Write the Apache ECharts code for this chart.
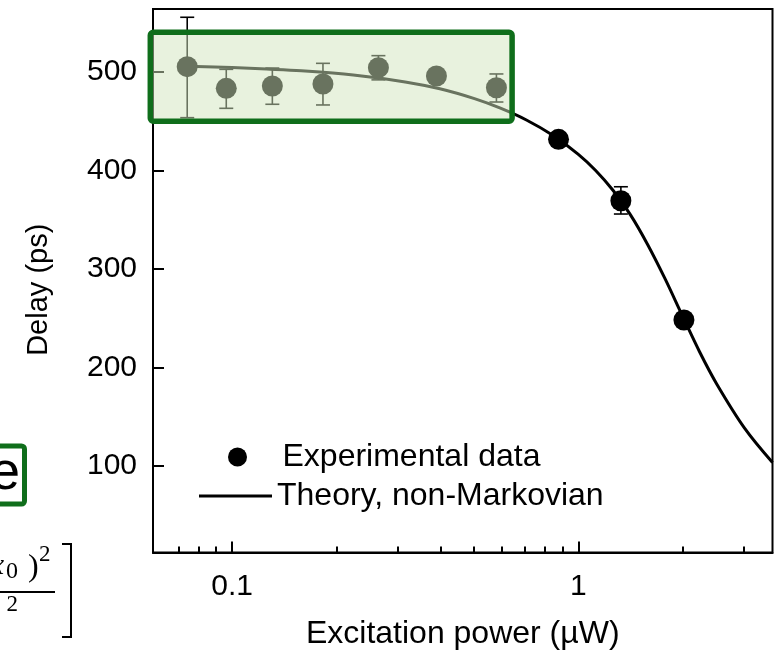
<!DOCTYPE html>
<html>
<head>
<meta charset="utf-8">
<script src="https://cdn.jsdelivr.net/npm/echarts@6/dist/echarts.min.js"></script>
<style>
  html, body { margin: 0; padding: 0; background: #fff; }
  #chart { width: 779px; height: 656px; }
</style>
</head>
<body>
<div id="chart"></div>
<script>
// Measured delay vs. excitation power, with error bars
const power = [0.0742, 0.0962, 0.1307, 0.1830, 0.2646, 0.3892, 0.580, 0.8765, 1.327, 2.018];
const delay = [505.4, 483.4, 485.8, 487.8, 504.4, 495.9, 484.0, 431.6, 369.2, 248.0];
const errLow = [453.6, 463.1, 467.2, 466.5, 492.0, null, 469.5, null, 355.7, null];
const errHigh = [555.6, 502.7, 504.0, 508.8, 516.6, null, 498.0, null, 383.4, null];

// Non-Markovian theory curve
const theoryPower = [0.07413, 0.1, 0.1259, 0.1585, 0.2239, 0.3162, 0.3981, 0.5012, 0.5957, 0.7079, 0.8414,
  1.0, 1.122, 1.259, 1.413, 1.585, 1.778, 1.995, 2.239, 2.512, 3.020, 3.637];
const theoryDelay = [505.8, 504.5, 503.0, 501.2, 496.9, 489.9, 482.9, 472.9, 463.2, 451.2, 435.9,
  416.3, 399.9, 379.8, 355.1, 324.8, 290.3, 252.8, 215.8, 182.8, 138.2, 103.3];

// Axis ticks
const xMajor = [0.1, 1];
const xMinor = [0.07, 0.08, 0.09, 0.2, 0.3, 0.4, 0.5, 0.6, 0.7, 0.8, 0.9, 2, 3];
const yTicks = [100, 200, 300, 400, 500];

const FONT = '"Liberation Sans", Arial, sans-serif';
const SERIF = '"Liberation Serif", "DejaVu Serif", serif';
const X_MIN = 0.0591, X_MAX = 3.637;
const Y_MIN = 11.8, Y_MAX = 564;

const chart = echarts.init(document.getElementById('chart'));

const points = power.map((p, i) => [p, delay[i]]);
const bars = power.map((p, i) => [p, errLow[i], errHigh[i]]).filter(d => d[1] != null);
const theory = theoryPower.map((p, i) => [p, theoryDelay[i]]);

const GREEN = '#0f6e1b';

const option = {
  animation: false,
  backgroundColor: '#fff',
  grid: {
    left: 153, right: 6.5, top: 9, bottom: 103.5,
    show: true, borderColor: '#000', borderWidth: 2
  },
  xAxis: [
    {
      type: 'log', logBase: 10, min: X_MIN, max: X_MAX,
      name: 'Excitation power (µW)', nameLocation: 'middle', nameGap: 66,
      nameTextStyle: { fontFamily: FONT, fontSize: 32, color: '#000' },
      axisLine: { lineStyle: { color: '#000', width: 2 } },
      axisTick: { inside: true, length: 11, customValues: xMajor, lineStyle: { color: '#000', width: 2 } },
      axisLabel: { customValues: xMajor, margin: 19, fontFamily: FONT, fontSize: 30, color: '#000',
        formatter: v => (Math.abs(v - 1) < 1e-9 ? '1' : '0.1') },
      splitLine: { show: false },
      minorTick: { show: false }
    },
    {
      type: 'log', logBase: 10, min: X_MIN, max: X_MAX, position: 'bottom', gridIndex: 0,
      axisLine: { show: false },
      axisTick: { inside: true, length: 6, customValues: xMinor, lineStyle: { color: '#000', width: 2 } },
      axisLabel: { show: false },
      splitLine: { show: false }
    }
  ],
  yAxis: {
    type: 'value', min: Y_MIN, max: Y_MAX,
    name: 'Delay (ps)', nameLocation: 'middle', nameGap: 100,
    nameTextStyle: { fontFamily: FONT, fontSize: 29, color: '#000', padding: [0, 18, 0, 0] },
    axisLine: { show: true, lineStyle: { color: '#000', width: 2 } },
    axisTick: { show: true, inside: true, length: 11, customValues: yTicks, lineStyle: { color: '#000', width: 2 } },
    axisLabel: { customValues: yTicks, margin: 16, fontFamily: FONT, fontSize: 30, color: '#000' },
    splitLine: { show: false }
  },
  legend: [
    {
      data: [{ name: 'Experimental data', icon: 'circle' }],
      left: 223, top: 436, itemWidth: 72, itemHeight: 19, itemGap: 0,
      textStyle: { fontFamily: FONT, fontSize: 32, color: '#000', padding: [0, 0, 0, 4] },
      selectedMode: false
    },
    {
      data: [{ name: 'Theory, non-Markovian', icon: 'rect' }],
      left: 194, top: 475, itemWidth: 73, itemHeight: 3, itemGap: 0,
      textStyle: { fontFamily: FONT, fontSize: 32, color: '#000' },
      selectedMode: false
    }
  ],
  series: [
    {
      name: 'Theory, non-Markovian', type: 'line', data: theory,
      smooth: 0.35, showSymbol: false, symbol: 'none',
      lineStyle: { color: '#000', width: 3 }, itemStyle: { color: '#000' },
      z: 2
    },
    {
      name: 'errorbars', type: 'custom', data: bars, z: 3,
      renderItem: (params, api) => {
        const x = api.value(0);
        const lo = api.coord([x, api.value(1)]);
        const hi = api.coord([x, api.value(2)]);
        const w = 7;
        const st = { stroke: '#000', lineWidth: 1.6 };
        return {
          type: 'group',
          children: [
            { type: 'line', shape: { x1: lo[0], y1: lo[1], x2: hi[0], y2: hi[1] }, style: st },
            { type: 'line', shape: { x1: lo[0] - w, y1: lo[1], x2: lo[0] + w, y2: lo[1] }, style: st },
            { type: 'line', shape: { x1: hi[0] - w, y1: hi[1], x2: hi[0] + w, y2: hi[1] }, style: st }
          ]
        };
      }
    },
    {
      name: 'Experimental data', type: 'scatter', data: points,
      symbol: 'circle', symbolSize: 21,
      itemStyle: { color: '#000', opacity: 1 }, z: 4
    }
  ],
  graphic: [
    // highlight box over the low-power plateau
    {
      type: 'rect', z: 100,
      shape: { x: 150.3, y: 32.2, width: 361.8, height: 89, r: 3 },
      style: { fill: 'rgba(210,229,190,0.5)', stroke: GREEN, lineWidth: 5.5 }
    },
    // panel label of the neighbouring figure
    {
      type: 'rect', z: 100,
      shape: { x: -20, y: 446, width: 44.5, height: 58, r: 3 },
      style: { fill: 'none', stroke: GREEN, lineWidth: 5 }
    },
    {
      type: 'text', z: 101, x: 20, y: 474,
      style: { text: 'e', font: '54px ' + FONT, fill: '#000', textAlign: 'right', textVerticalAlign: 'middle' }
    },
    // fragment of the neighbouring equation
    {
      type: 'text', z: 101, x: 4, y: 566,
      style: { text: 'x', font: 'italic 30px ' + SERIF, fill: '#000', textAlign: 'right', textVerticalAlign: 'middle' }
    },
    {
      type: 'text', z: 101, x: 12, y: 572,
      style: { text: '0', font: '24px ' + SERIF, fill: '#000', textAlign: 'center', textVerticalAlign: 'middle' }
    },
    {
      type: 'text', z: 101, x: 28, y: 568,
      style: { text: ')', font: '32px ' + SERIF, fill: '#000', textAlign: 'left', textVerticalAlign: 'middle' }
    },
    {
      type: 'text', z: 101, x: 39, y: 555,
      style: { text: '2', font: '23px ' + SERIF, fill: '#000', textAlign: 'left', textVerticalAlign: 'middle' }
    },
    {
      type: 'line', z: 101,
      shape: { x1: 0, y1: 592, x2: 55, y2: 592 },
      style: { stroke: '#000', lineWidth: 1.8 }
    },
    {
      type: 'text', z: 101, x: 18, y: 605,
      style: { text: '2', font: '23px ' + SERIF, fill: '#000', textAlign: 'right', textVerticalAlign: 'middle' }
    },
    {
      type: 'polyline', z: 101,
      shape: { points: [[62, 544], [71, 544], [71, 637], [62, 637]] },
      style: { stroke: '#000', lineWidth: 2, fill: 'none' }
    }
  ]
};

chart.setOption(option);
</script>
</body>
</html>
